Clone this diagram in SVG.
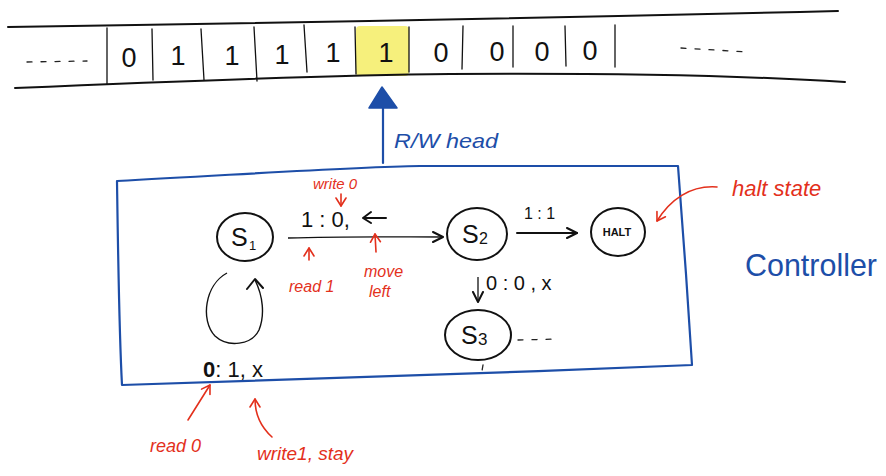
<svg xmlns="http://www.w3.org/2000/svg" width="886" height="476" viewBox="0 0 886 476">
<style>
.ink{fill:none;stroke:#111;stroke-width:2;stroke-linecap:round;stroke-linejoin:round}
.thin{fill:none;stroke:#111;stroke-width:1.3;stroke-linecap:round}
.blue{fill:none;stroke:#1d4ea8;stroke-width:2.2;stroke-linecap:round;stroke-linejoin:round}
.red{fill:none;stroke:#e3301c;stroke-width:1.6;stroke-linecap:round;stroke-linejoin:round}
.t{font-family:"Liberation Sans",Arial,sans-serif;fill:#111}
.tr{font-family:"Liberation Sans",Arial,sans-serif;fill:#e3301c;font-style:italic}
.tb{font-family:"Liberation Sans",Arial,sans-serif;fill:#1d4ea8}
.dash{fill:none;stroke:#222;stroke-width:1.3;stroke-dasharray:5 9;stroke-linecap:round}
</style>
<defs>
<marker id="chev" markerWidth="14" markerHeight="14" refX="11" refY="6" orient="auto" markerUnits="userSpaceOnUse"><path d="M1,1 L11,6 L1,11" fill="none" stroke="#111" stroke-width="2" stroke-linecap="round" stroke-linejoin="round"/></marker>
<marker id="chevRed" markerWidth="14" markerHeight="14" refX="10" refY="6" orient="auto" markerUnits="userSpaceOnUse"><path d="M2,1 L10,6 L2,11" fill="none" stroke="#e3301c" stroke-width="1.6" stroke-linecap="round" stroke-linejoin="round"/></marker>
</defs>

<g id="tape">
<rect x="356" y="26" width="53" height="50" rx="4" fill="#f6f07c"/>
<path class="ink" d="M8,27 Q420,21 838,11"/>
<path class="ink" d="M15,88 C200,80 350,75 450,74 C600,73 750,76 845,82"/>
<g class="thin">
<path d="M107,28 L107,84"/><path d="M152,29 L153,80"/><path d="M201,29 L204,80"/><path d="M254,27 L257,81"/>
<path d="M304,25 L307,72"/><path d="M355,27 L356,74"/><path d="M409,27 L409,72"/><path d="M463,26 L462,69"/>
<path d="M513,26 L513,67"/><path d="M565,26 L566,66"/><path d="M615,25 L615,67"/>
</g>
<path class="dash" d="M27,62 L87,61" stroke-dasharray="6 8"/>
<path class="dash" d="M681,48 L748,52" stroke-dasharray="4 10"/>
<g class="t" font-size="27" text-anchor="middle">
<text x="129" y="67">0</text><text x="178" y="65">1</text><text x="232" y="65">1</text><text x="282" y="64">1</text>
<text x="333" y="62">1</text><text x="386" y="62">1</text><text x="441" y="62">0</text><text x="497" y="61">0</text>
<text x="542" y="61">0</text><text x="590" y="60">0</text>
</g>
</g>

<g id="rwhead">
<path class="blue" d="M383,163 L383,104"/>
<path d="M382,87 L369,108 L397,108 Z" fill="#1d4ea8" stroke="#1d4ea8" stroke-width="1.5" stroke-linejoin="round"/>
<text class="tb" x="394" y="148" font-size="21" font-style="italic" textLength="104" lengthAdjust="spacingAndGlyphs">R/W head</text>
</g>

<g id="controller">
<path class="blue" d="M117,181 C250,174 350,167 420,166 L678,166 C683,230 688,300 692,365 C500,373 300,380 122,385 C119,330 118,250 117,181"/>
<text class="tb" x="745" y="276" font-size="32" textLength="132" lengthAdjust="spacingAndGlyphs">Controller</text>
</g>

<g id="s1">
<ellipse class="ink" cx="245" cy="237" rx="28" ry="24"/>
<text class="t" x="231" y="246" font-size="25">S</text><text class="t" x="249" y="250" font-size="13">1</text>
</g>

<g id="s2">
<ellipse class="ink" cx="477" cy="234" rx="30" ry="26"/>
<text class="t" x="462" y="243" font-size="25">S</text><text class="t" x="479" y="244" font-size="16">2</text>
</g>

<g id="halt">
<ellipse class="ink" cx="618" cy="232" rx="27" ry="24"/>
<text class="t" x="617" y="236" font-size="11" text-anchor="middle" font-weight="bold">HALT</text>
</g>

<g id="s3">
<ellipse class="ink" cx="478" cy="335" rx="33" ry="25"/>
<text class="t" x="461" y="344" font-size="25">S</text><text class="t" x="478" y="345" font-size="17">3</text>
<path class="dash" d="M518,340 L558,339" stroke-dasharray="4 9"/>
<path class="dash" d="M483,365 L481,377" stroke-dasharray="4 4"/>
</g>

<g id="connectors">
<path d="M288,238 C350,236 400,237 443,237" stroke="#111" stroke-width="1.3" fill="none" marker-end="url(#chev)"/>
<path class="ink" d="M517,233 L577,233" marker-end="url(#chev)"/>
<path d="M478,277 L478,302" stroke="#111" stroke-width="1.3" fill="none" marker-end="url(#chev)"/>
<path d="M227,273 C205,285 200,320 215,336 C228,348 252,345 259,330 C265,315 263,296 255,280" stroke="#111" stroke-width="1.4" fill="none"/>
<path class="ink" d="M247,289 L255,279 L263,288" stroke-width="2.4"/>
</g>

<g id="labels">
<text class="t" x="301" y="227" font-size="22">1 : 0,</text>
<path class="ink" d="M386,218 L363,218 M371,212 L363,218 L371,223"/>
<text class="t" x="524" y="219" font-size="16">1 : 1</text>
<text class="t" x="486" y="290" font-size="20">0 : 0 , x</text>
<text class="t" x="203" y="377" font-size="22"><tspan font-weight="bold">0</tspan>: 1, x</text>
</g>

<g id="annotations">
<text class="tr" x="313" y="189" font-size="15">write 0</text>
<path class="red" d="M341,194 L341,206" marker-end="url(#chevRed)"/>
<text class="tr" x="289" y="292" font-size="16">read 1</text>
<path class="red" d="M309,260 L309,248" marker-end="url(#chevRed)"/>
<text class="tr" x="364" y="277" font-size="16">move</text>
<text class="tr" x="369" y="297" font-size="16">left</text>
<path class="red" d="M376,252 L375,234" marker-end="url(#chevRed)"/>
<text class="tr" x="732" y="196" font-size="22">halt state</text>
<path class="red" d="M717,187 C690,185 670,200 657,221" marker-end="url(#chevRed)"/>
<text class="tr" x="150" y="452" font-size="18">read 0</text>
<path class="red" d="M188,420 L210,385" marker-end="url(#chevRed)"/>
<text class="tr" x="257" y="460" font-size="19">write1, stay</text>
<path class="red" d="M272,437 C262,428 255,415 255,399" marker-end="url(#chevRed)"/>
</g>
</svg>
